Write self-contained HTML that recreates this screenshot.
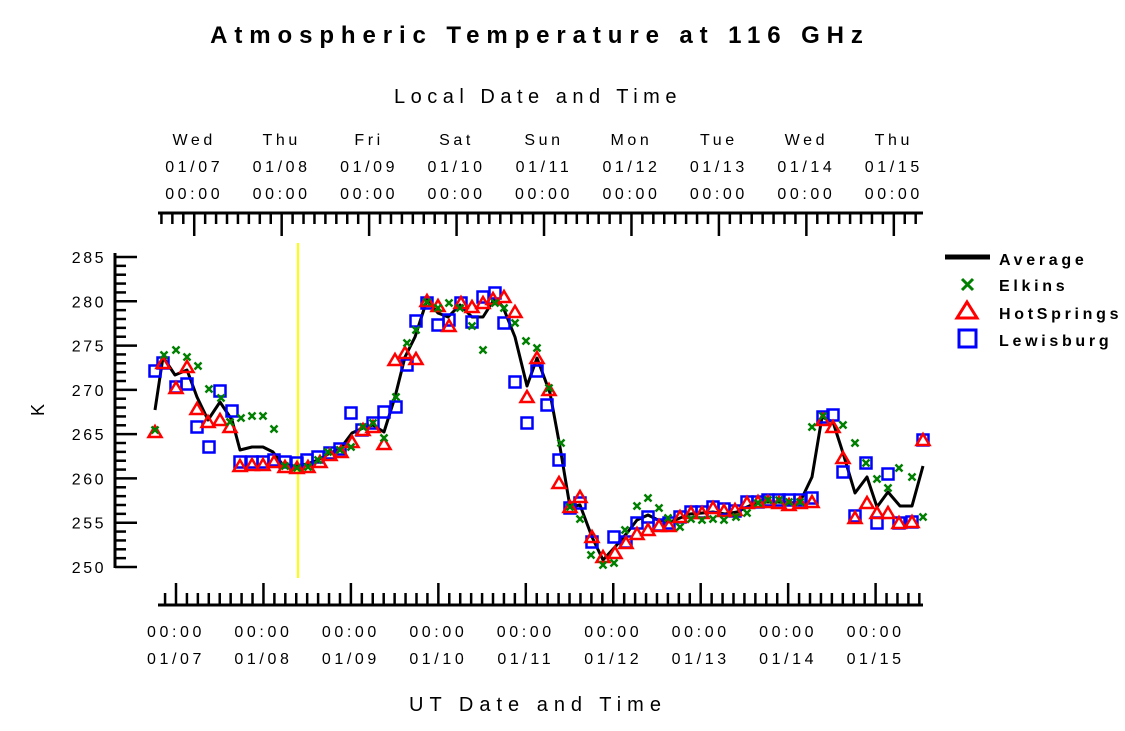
<!DOCTYPE html>
<html><head><meta charset="utf-8"><style>
html,body{margin:0;padding:0;background:#fff;}
svg{display:block;}
text{font-family:"Liberation Sans",sans-serif;}
</style></head><body>
<svg id="s" width="1125" height="731" xmlns="http://www.w3.org/2000/svg">
<text x="540" y="43" text-anchor="middle" font-size="24" font-weight="bold" letter-spacing="6.9">Atmospheric Temperature at 116 GHz</text>
<text x="538" y="103" text-anchor="middle" font-size="20" letter-spacing="5.5">Local Date and Time</text>
<text x="538" y="711" text-anchor="middle" font-size="20" letter-spacing="6">UT Date and Time</text>
<text transform="translate(44,410) rotate(-90)" text-anchor="middle" font-size="18">K</text>
<line x1="298" y1="243" x2="298" y2="578" stroke="#ffff00" stroke-width="2"/>
<g id="ax" stroke="#000" fill="none"></g>
<g id="lab" font-size="16" letter-spacing="3.6"></g>
<polyline id="avg" fill="none" stroke="#000" stroke-width="3" stroke-linejoin="round"/>
<g id="pts" fill="none" stroke-width="2.5"></g>
<g font-size="16" font-weight="bold" letter-spacing="3.7">
<line x1="945" y1="257" x2="990" y2="257" stroke="#000" stroke-width="5"/>
<text x="999" y="265">Average</text>
<path d="M962,279 L973,290 M973,279 L962,290" stroke="#008000" stroke-width="3"/>
<text x="999" y="291">Elkins</text>
<path d="M967,302 L977,318 L957,318 Z" stroke="#ff0000" stroke-width="3" fill="none"/>
<text x="999" y="319">HotSprings</text>
<rect x="959" y="330" width="17" height="17" stroke="#0000ff" stroke-width="3" fill="none"/>
<text x="999" y="346">Lewisburg</text>
</g>
</svg>
<script>
var NS="http://www.w3.org/2000/svg";
function el(p,t,a,txt){var e=document.createElementNS(NS,t);for(var k in a)e.setAttribute(k,a[k]);if(txt!=null)e.textContent=txt;document.getElementById(p).appendChild(e);return e;}
el("ax","line",{x1:115,y1:253,x2:115,y2:568,"stroke-width":3});
for(var k=0;k<=35;k++){var y=567-k*310/35;el("ax","line",{x1:115,y1:y,x2:(k%5==0?137:126),y2:y,"stroke-width":2.5});}
var yl=[250,255,260,265,270,275,280,285];
yl.forEach(function(v){var y=567-(v-250)*310/35;el("lab","text",{x:106,y:y+6,"text-anchor":"end","letter-spacing":"2.5"},v);});
var day=87.45, x0=176;
el("ax","line",{x1:158,y1:605,x2:923,y2:605,"stroke-width":3});
el("ax","line",{x1:158,y1:213,x2:923,y2:213,"stroke-width":3});
for(var h=-6;h<=8*24+18;h+=3){var x=x0+h/24*day;if(x<158||x>923)continue;var maj=(h%24==0);
el("ax","line",{x1:x,y1:605,x2:x,y2:maj?583:593,"stroke-width":2.5});}
for(var h=-9;h<=8*24+18;h+=3){var x=x0+(h+5)/24*day;if(x<158||x>923)continue;var maj=((h%24)+24)%24==0;
el("ax","line",{x1:x,y1:213,x2:x,y2:maj?236:224,"stroke-width":2.5});}
var days=["Wed","Thu","Fri","Sat","Sun","Mon","Tue","Wed","Thu"];
for(var d=0;d<9;d++){var x=x0+d*day, xt=x+5/24*day, dt="01/"+(d+7<10?"0":"")+(d+7);
el("lab","text",{x:x,y:637,"text-anchor":"middle"},"00:00");
el("lab","text",{x:x,y:664,"text-anchor":"middle"},dt);
el("lab","text",{x:xt,y:145,"text-anchor":"middle"},days[d]);
el("lab","text",{x:xt,y:172,"text-anchor":"middle"},dt);
el("lab","text",{x:xt,y:199,"text-anchor":"middle"},"00:00");}
var avg=[[155,410],[163,357],[175,375],[187,370],[197,397],[208,420],[220,402],[232,420],[240,450],[252,447],[263,447],[273,452],[283,465],[295,466],[307,464],[318,460],[330,453],[340,449],[352,433],[363,428],[373,425],[384,432],[395,397],[405,357],[415,337],[427,300],[438,313],[448,317],[460,305],[472,317],[483,317],[495,298],[503,307],[515,337],[527,386],[537,358],[550,393],[560,447],[570,507],[580,505],[592,537],[603,560],[615,547],[627,533],[637,520],[648,515],[658,520],[670,522],[680,518],[690,514],[702,513],[713,512],[725,514],[737,512],[747,507],[758,502],[768,502],[778,502],[790,503],[800,502],[812,477],[822,417],[833,422],[843,453],[855,493],[867,477],[877,507],[888,492],[900,506],[912,506],[923,466]];
document.getElementById("avg").setAttribute("points",avg.map(function(p){return p.join(",")}).join(" "));
var E=[[155,430],[164,355],[176,350],[187,357],[198,366],[209,389],[221,398],[230,422],[241,418],[252,416],[263,416],[274,429],[285,466],[297,468],[308,467],[318,460],[328,452],[340,450],[351,447],[363,427],[373,423],[384,438],[396,397],[407,343],[416,330],[427,302],[438,308],[449,303],[460,308],[472,326],[483,350],[495,303],[504,308],[515,323],[526,341],[537,348],[549,388],[561,443],[570,507],[580,519],[591,555],[603,565],[614,563],[625,530],[637,506],[648,498],[659,508],[668,518],[680,527],[691,519],[702,520],[713,519],[724,520],[736,517],[747,513],[758,503],[768,500],[779,500],[789,502],[800,502],[812,427],[823,416],[843,425],[855,443],[866,463],[877,479],[888,488],[899,468],[912,477],[923,517]];
var H=[[155,432],[163,363],[176,388],[187,367],[197,409],[208,422],[220,420],[230,427],[240,466],[252,465],[263,465],[274,462],[285,467],[297,468],[308,467],[320,462],[330,455],[341,452],[352,442],[363,430],[373,427],[384,444],[395,360],[405,353],[416,359],[427,301],[438,306],[449,326],[461,303],[472,307],[483,303],[493,299],[504,297],[515,312],[527,397],[537,358],[549,390],[559,483],[570,507],[580,497],[592,537],[603,557],[615,553],[626,543],[637,534],[648,530],[659,526],[669,526],[680,517],[691,513],[702,513],[713,508],[724,511],[735,510],[747,503],[758,502],[768,502],[779,503],[789,505],[800,503],[812,502],[823,420],[833,427],[843,458],[855,518],[867,503],[877,513],[888,513],[899,523],[912,522],[923,440]];
var L=[[155,371],[163,363],[176,387],[187,384],[197,427],[209,447],[220,391],[232,411],[240,462],[252,462],[263,462],[274,460],[285,462],[297,463],[307,460],[318,457],[330,453],[340,449],[351,413],[362,430],[373,423],[384,412],[396,407],[407,365],[416,321],[427,303],[438,325],[449,320],[461,303],[472,322],[483,297],[495,293],[504,323],[515,382],[527,423],[537,371],[547,405],[559,460],[570,508],[580,503],[592,542],[614,537],[626,542],[637,523],[648,517],[659,525],[669,523],[680,517],[691,512],[702,512],[713,507],[724,509],[735,511],[747,502],[758,502],[768,500],[779,500],[789,500],[800,500],[812,498],[823,417],[833,415],[843,472],[855,516],[866,463],[877,523],[888,474],[899,523],[912,522],[923,440]];
L.forEach(function(p){el("pts","rect",{x:p[0]-5.5,y:p[1]-5.5,width:11,height:11,stroke:"#0000ff"});});
H.forEach(function(p){el("pts","path",{d:"M"+p[0]+","+(p[1]-6)+" L"+(p[0]+6.5)+","+(p[1]+5)+" L"+(p[0]-6.5)+","+(p[1]+5)+" Z",stroke:"#ff0000"});});
E.forEach(function(p){var x=p[0],y=p[1];el("pts","path",{d:"M"+(x-3.5)+","+(y-3.5)+" L"+(x+3.5)+","+(y+3.5)+" M"+(x+3.5)+","+(y-3.5)+" L"+(x-3.5)+","+(y+3.5),stroke:"#008000"});});
</script>
</body></html>
